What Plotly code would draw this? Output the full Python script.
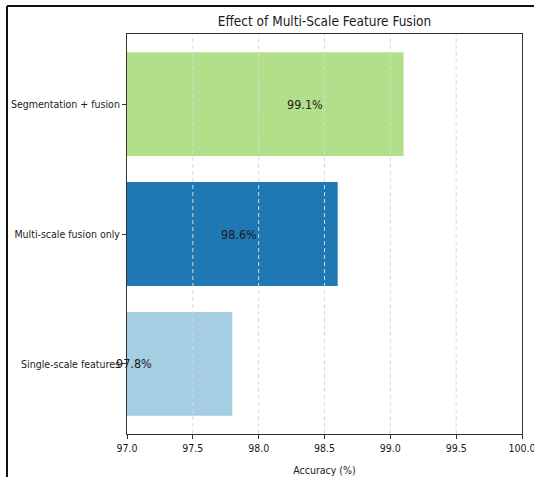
import plotly.graph_objects as go

# Accuracy of each feature configuration (percent)
categories = ["Single-scale features", "Multi-scale fusion only", "Segmentation + fusion"]
accuracy = [97.8, 98.6, 99.1]
bar_colors = ["#a6cee3", "#1f78b4", "#b2df8a"]
x_ticks = [97.0, 97.5, 98.0, 98.5, 99.0, 99.5, 100.0]
value_labels = [f"{v:.1f}%" for v in accuracy]
LABEL_SHIFT = 0.75  # value labels sit this far left of each bar end

FONT = "DejaVu Sans Condensed, DejaVu Sans, sans-serif"
TEXT = "#1a1a1a"

fig = go.Figure()
fig.add_trace(go.Bar(
    y=categories,
    x=[v - x_ticks[0] for v in accuracy],
    base=x_ticks[0],
    orientation="h",
    width=0.8,
    marker=dict(color=bar_colors, line=dict(width=0)),
    hoverinfo="skip",
))

# value labels inside the bars
for cat, v, lab in zip(categories, accuracy, value_labels):
    fig.add_annotation(
        x=v - LABEL_SHIFT, y=cat, xref="x", yref="y",
        text=lab, showarrow=False,
        font=dict(family=FONT, size=12.5, color=TEXT),
        xanchor="center", yanchor="middle",
    )

# dashed vertical grid drawn over the bars
for t in x_ticks[1:-1]:
    fig.add_shape(
        type="line", xref="x", yref="paper",
        x0=t, x1=t, y0=0, y1=1,
        line=dict(color="#d8d8d8", width=1, dash="4px,3px"),
        layer="above",
    )

# outer figure frame (left and top edges)
fig.add_shape(type="line", xref="paper", yref="paper",
              x0=-0.3038, x1=1.1, y0=1.07, y1=1.07,
              line=dict(color="#111", width=2))
fig.add_shape(type="line", xref="paper", yref="paper",
              x0=-0.3038, x1=-0.3038, y0=1.07, y1=-0.2,
              line=dict(color="#111", width=2))

fig.update_layout(
    width=534, height=477,
    margin=dict(l=127, r=12, t=34, b=43, autoexpand=False),
    paper_bgcolor="white", plot_bgcolor="white",
    showlegend=False,
    font=dict(family=FONT, size=10.5, color=TEXT),
    title=dict(
        text="Effect of Multi-Scale Feature Fusion",
        x=0.5, xref="paper", xanchor="center",
        y=1 - 21 / 477, yref="container", yanchor="middle",
        font=dict(family=FONT, size=13.5, color=TEXT),
    ),
    bargap=0.2,
)

fig.update_xaxes(
    range=[x_ticks[0], x_ticks[-1]],
    tickvals=x_ticks,
    ticktext=[f"{t:.1f}" for t in x_ticks],
    showgrid=False, zeroline=False,
    showline=True, linecolor="#333", linewidth=1, mirror=True,
    ticks="outside", ticklen=4, tickcolor="#333",
    tickfont=dict(family=FONT, size=10.5, color=TEXT),
    ticklabeloverflow="allow",
    automargin=False,
    title=dict(text="Accuracy (%)", standoff=14,
               font=dict(family=FONT, size=10.5, color=TEXT)),
)
fig.update_yaxes(
    categoryorder="array", categoryarray=categories,
    range=[-0.54, 2.54],
    showgrid=False, zeroline=False,
    showline=True, linecolor="#333", linewidth=1, mirror=True,
    ticks="outside", ticklen=4, tickcolor="#333",
    tickfont=dict(family=FONT, size=10.5, color=TEXT),
    automargin=False,
)

fig.write_html("out.html")
